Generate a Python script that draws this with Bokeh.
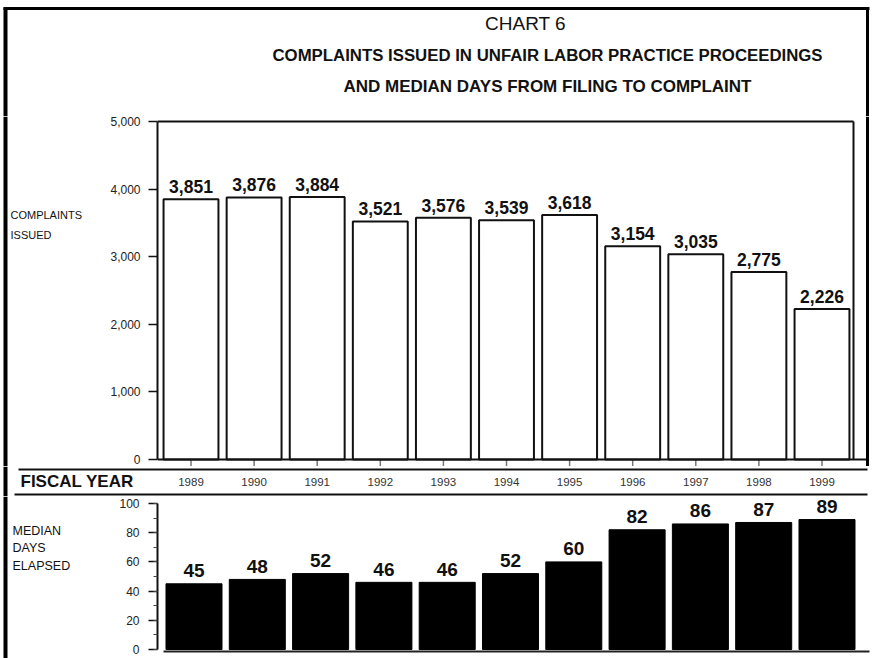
from bokeh.plotting import figure
from bokeh.layouts import column, row
from bokeh.models import (Range1d, LinearAxis, SingleIntervalTicker,
                          NumeralTickFormatter, ColumnDataSource)
from bokeh.core.properties import value
from bokeh.embed import file_html
from bokeh.resources import INLINE

# ---------------- data ----------------
years = [1989, 1990, 1991, 1992, 1993, 1994, 1995, 1996, 1997, 1998, 1999]
year_labels = [str(y) for y in years]
complaints = [3851, 3876, 3884, 3521, 3576, 3539, 3618, 3154, 3035, 2775, 2226]
complaint_labels = ["{:,}".format(v) for v in complaints]
median_days = [45, 48, 52, 46, 46, 52, 60, 82, 86, 87, 89]
median_labels = [str(v) for v in median_days]

title_text = "CHART 6"
subtitle_1 = "COMPLAINTS ISSUED IN UNFAIR LABOR PRACTICE PROCEEDINGS"
subtitle_2 = "AND MEDIAN DAYS FROM FILING TO COMPLAINT"
top_axis_label = ["COMPLAINTS", "ISSUED"]
bottom_axis_label = ["MEDIAN", "DAYS", "ELAPSED"]
fiscal_label = "FISCAL YEAR"

# ---------------- layout constants (pixels) ----------------
W = 872
H_HEAD, H_TOP, H_FY, H_BOT = 116, 350, 30, 162
LEFT_W = 95
AXIS_W = 62
FRAME_L = LEFT_W + AXIS_W          # 157
FONT = value("Liberation Sans")
INK = "#111111"

# top chart mapping
TOP_Y0 = H_HEAD                    # 116
TOP_ZERO_PX = 459
TOP_PX_PER = 338 / 5000
TOP_FIRST_PX, TOP_SLOT = 190.5, 63.1
# bottom chart mapping
BOT_Y0 = H_HEAD + H_TOP + H_FY     # 496
BOT_ZERO_PX = 649
BOT_PX_PER = 1.46
BOT_FIRST_PX, BOT_SLOT = 193.5, 63.3
LABEL_GAP_TOP = 12.5               # px between bar top and label centre
LABEL_GAP_BOT = 13


def yr(px, first_px, slot):
    return years[0] + (px - first_px) / slot


def base_fig(w, h, **kw):
    p = figure(width=w, height=h, toolbar_location=None, output_backend="svg",
               x_axis_location=None, y_axis_location=None, min_border=0,
               outline_line_color=None, background_fill_color="white",
               border_fill_color="white", **kw)
    p.grid.visible = False
    return p


def px_fig(w, h, y_top):
    return base_fig(w, h, x_range=Range1d(0, w), y_range=Range1d(y_top + h, y_top))


def left_border(p, y0, y1):
    p.segment(x0=[5], y0=[y0], x1=[5], y1=[y1], line_color="black", line_width=4)


# ---------------- header ----------------
head = px_fig(W, H_HEAD, 0)
head.segment(x0=[3], y0=[8], x1=[869], y1=[8], line_color="black", line_width=3)
left_border(head, 7, H_HEAD)
head.segment(x0=[867], y0=[7], x1=[867], y1=[H_HEAD], line_color="black", line_width=3)
head.text(x=[525], y=[23], text=[title_text], text_font=FONT, text_font_size="19px",
          text_align="center", text_baseline="middle", text_color=INK)
head.text(x=[547], y=[55], text=[subtitle_1], text_font=FONT, text_font_size="16.8px",
          text_font_style="bold", text_align="center", text_baseline="middle", text_color=INK)
head.text(x=[547], y=[86], text=[subtitle_2], text_font=FONT, text_font_size="17px",
          text_font_style="bold", text_align="center", text_baseline="middle", text_color=INK)

# ---------------- top chart ----------------
l1 = px_fig(LEFT_W, H_TOP, TOP_Y0)
left_border(l1, TOP_Y0, TOP_Y0 + H_TOP)
l1.text(x=[10, 10], y=[214, 234], text=top_axis_label, text_font=FONT,
        text_font_size="11px", text_align="left", text_baseline="middle", text_color=INK)

top_x = Range1d(yr(FRAME_L, TOP_FIRST_PX, TOP_SLOT), yr(W, TOP_FIRST_PX, TOP_SLOT))
top_y = Range1d((TOP_ZERO_PX - (TOP_Y0 + H_TOP)) / TOP_PX_PER,
                (TOP_ZERO_PX - TOP_Y0) / TOP_PX_PER)
c1 = base_fig(W - LEFT_W, H_TOP, x_range=top_x, y_range=top_y)
c1.min_border_left = AXIS_W
c1.extra_x_ranges = {"px": Range1d(FRAME_L, W)}
c1.extra_y_ranges = {"py": Range1d(TOP_Y0 + H_TOP, TOP_Y0)}

src_top = ColumnDataSource(dict(x=years, top=complaints, lab=complaint_labels,
                                lab_y=[v + LABEL_GAP_TOP / TOP_PX_PER for v in complaints],
                                tick_lo=[-8 / TOP_PX_PER] * len(years),
                                zero=[0] * len(years)))
box_right = yr(853, TOP_FIRST_PX, TOP_SLOT)
c1.segment(x0=[top_x.start], y0=[5000], x1=[box_right], y1=[5000],
           line_color=INK, line_width=2)
c1.segment(x0=[box_right], y0=[0], x1=[box_right], y1=[5000],
           line_color=INK, line_width=2)
c1.segment(x0="x", y0="zero", x1="x", y1="tick_lo", source=src_top,
           line_color="#777777", line_width=1.5)
c1.vbar(x="x", top="top", bottom=0, width=0.87, source=src_top,
        fill_color="white", line_color=INK, line_width=2)
c1.segment(x0=[FRAME_L], y0=[TOP_ZERO_PX], x1=[867], y1=[TOP_ZERO_PX],
           x_range_name="px", y_range_name="py", line_color=INK, line_width=2)
c1.segment(x0=[867], y0=[TOP_Y0], x1=[867], y1=[TOP_Y0 + H_TOP],
           x_range_name="px", y_range_name="py", line_color="black", line_width=3)
c1.text(x="x", y="lab_y", text="lab", source=src_top, text_font=FONT,
        text_font_size="17.5px", text_font_style="bold", text_align="center",
        text_baseline="middle", text_color=INK)

ax1 = LinearAxis(bounds=(0, 5000), ticker=SingleIntervalTicker(interval=1000, num_minor_ticks=0),
                 formatter=NumeralTickFormatter(format="0,0"))
ax1.axis_line_width = 2
ax1.axis_line_color = INK
ax1.major_tick_out = 9
ax1.major_tick_in = 0
ax1.major_tick_line_width = 1.5
ax1.major_tick_line_color = INK
ax1.minor_tick_line_color = None
ax1.major_label_text_font = "Liberation Sans"
ax1.major_label_text_font_size = "12px"
ax1.major_label_text_color = "#222222"
ax1.major_label_standoff = 8
c1.add_layout(ax1, "left")

# ---------------- fiscal year row ----------------
FY_Y0 = TOP_Y0 + H_TOP
fy = base_fig(W, H_FY,
              x_range=Range1d(yr(0, TOP_FIRST_PX, TOP_SLOT), yr(W, TOP_FIRST_PX, TOP_SLOT)),
              y_range=Range1d(FY_Y0 + H_FY, FY_Y0))
fy.extra_x_ranges = {"px": Range1d(0, W)}
fy.segment(x0=[5], y0=[FY_Y0], x1=[5], y1=[FY_Y0 + H_FY], x_range_name="px",
           line_color="black", line_width=4)
fy.segment(x0=[18, 14], y0=[469, 494], x1=[867, 867], y1=[469, 494], x_range_name="px",
           line_color=INK, line_width=2)
fy.text(x=[20], y=[481], text=[fiscal_label], x_range_name="px", text_font=FONT,
        text_font_size="17px", text_font_style="bold", text_align="left",
        text_baseline="middle", text_color=INK)
fy.text(x=years, y=[481] * len(years), text=year_labels, text_font=FONT,
        text_font_size="11.5px", text_align="center", text_baseline="middle",
        text_color="#333333")

# ---------------- bottom chart ----------------
l3 = px_fig(LEFT_W, H_BOT, BOT_Y0)
left_border(l3, BOT_Y0, BOT_Y0 + H_BOT)
l3.text(x=[12, 12, 12], y=[530, 547, 565], text=bottom_axis_label, text_font=FONT,
        text_font_size="12.5px", text_align="left", text_baseline="middle", text_color=INK)

bot_x = Range1d(yr(FRAME_L, BOT_FIRST_PX, BOT_SLOT), yr(W, BOT_FIRST_PX, BOT_SLOT))
bot_y = Range1d((BOT_ZERO_PX - (BOT_Y0 + H_BOT)) / BOT_PX_PER,
                (BOT_ZERO_PX - BOT_Y0) / BOT_PX_PER)
c3 = base_fig(W - LEFT_W, H_BOT, x_range=bot_x, y_range=bot_y)
c3.min_border_left = AXIS_W
c3.extra_x_ranges = {"px": Range1d(FRAME_L, W)}
c3.extra_y_ranges = {"py": Range1d(BOT_Y0 + H_BOT, BOT_Y0)}

src_bot = ColumnDataSource(dict(x=years, top=median_days, lab=median_labels,
                                lab_y=[v + LABEL_GAP_BOT / BOT_PX_PER for v in median_days]))
c3.vbar(x="x", top="top", bottom=0, width=0.885, source=src_bot,
        fill_color="black", line_color="black", line_width=1)
c3.segment(x0=[163], y0=[651], x1=[869], y1=[651], x_range_name="px", y_range_name="py",
           line_color="#222222", line_width=2)
c3.text(x="x", y="lab_y", text="lab", source=src_bot, text_font=FONT,
        text_font_size="19px", text_font_style="bold", text_align="center",
        text_baseline="middle", text_color=INK)

ax3 = LinearAxis(bounds=(0, 100), ticker=SingleIntervalTicker(interval=20, num_minor_ticks=2))
ax3.axis_line_width = 2
ax3.axis_line_color = INK
ax3.major_tick_out = 9
ax3.major_tick_in = 0
ax3.major_tick_line_width = 1.5
ax3.major_tick_line_color = INK
ax3.minor_tick_out = 4
ax3.minor_tick_in = 0
ax3.minor_tick_line_color = "#444444"
ax3.major_label_text_font = "Liberation Sans"
ax3.major_label_text_font_size = "12px"
ax3.major_label_text_color = "#222222"
ax3.major_label_standoff = 9
c3.add_layout(ax3, "left")

layout = column(head, row(l1, c1), fy, row(l3, c3))

open("out.html", "w").write(file_html(layout, INLINE))
